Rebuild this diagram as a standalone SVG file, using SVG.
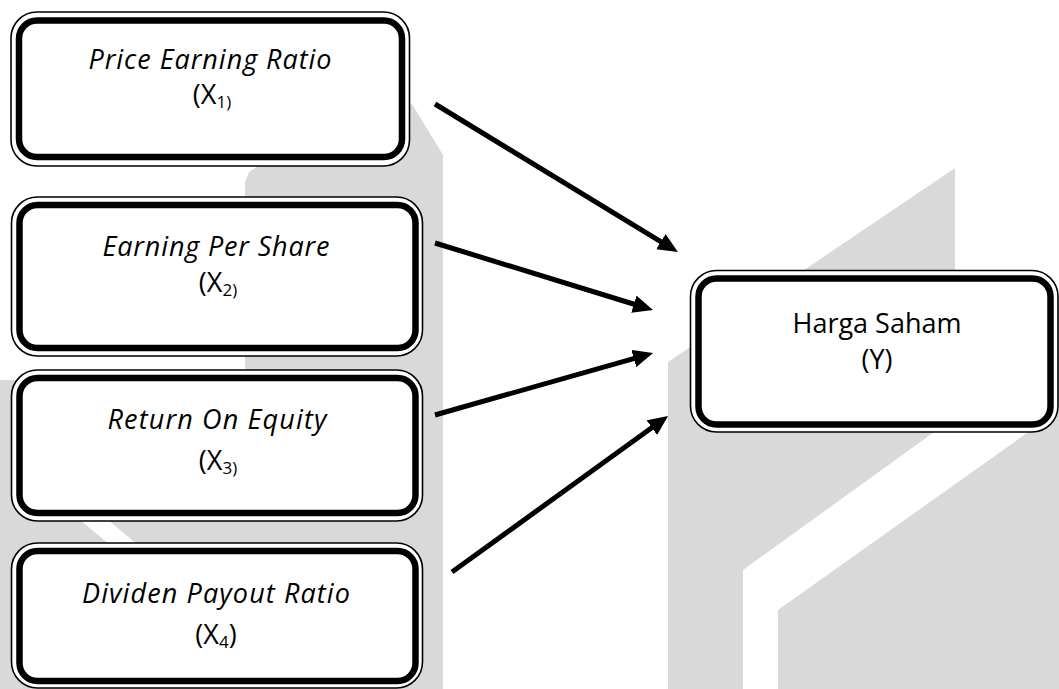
<svg xmlns="http://www.w3.org/2000/svg" width="1059" height="689" viewBox="0 0 1059 689">
<style>
.wm{fill:#d9d9d9;stroke:none}
.outer{fill:#fff;stroke:#000;stroke-width:1.6}
.inner{fill:none;stroke:#000;stroke-width:6.5}
.t{font-family:"Open Sans","Noto Sans","Liberation Sans",sans-serif;font-size:27px;fill:#000;text-anchor:middle}
.it{font-style:italic}
.sub{font-size:17px}
.conn{stroke:#000;stroke-width:5;fill:none;marker-end:url(#ah)}
</style>
<defs>
<marker id="ah" markerUnits="userSpaceOnUse" markerWidth="20" markerHeight="18" viewBox="0 0 20 18" refX="8" refY="9" orient="auto">
<path d="M0,0 L20,9 L0,18 z" fill="#000"/>
</marker>
</defs>
<rect width="1059" height="689" fill="#fff"/>
<g id="watermark">
<polygon class="wm" points="245,689 245,182 249,172 258,166 412,104 443,155 443,689"/>
<rect class="wm" x="0" y="380" width="245" height="309"/>
<polygon points="80,520 108,520 138,545 110,545" fill="#fff"/>
<polygon class="wm" points="668,362 955,168 955,417 743,570 743,689 668,689"/>
<polygon class="wm" points="778,610 1027,433 1059,410 1059,689 778,689"/>
</g>
<g id="connectors">
<line class="conn" x1="435" y1="104" x2="667.7" y2="245.8"/>
<line class="conn" x1="435" y1="243" x2="641.5" y2="306.5"/>
<line class="conn" x1="435" y1="415" x2="641.5" y2="356.3"/>
<line class="conn" x1="452" y1="572" x2="658.3" y2="423"/>
</g>
<g id="node-x1">
<rect class="outer" x="11" y="12" width="398.5" height="154" rx="26"/>
<rect class="inner" x="19" y="20.5" width="383" height="136.5" rx="18"/>
<text class="t it" x="210" y="69" textLength="243">Price Earning Ratio</text>
<text class="t" x="212" y="104">(X<tspan class="sub" dy="4">1)</tspan></text>
</g>
<g id="node-x2">
<rect class="outer" x="11.5" y="197" width="411" height="159" rx="26"/>
<rect class="inner" x="19.5" y="205" width="396" height="143" rx="18"/>
<text class="t it" x="216" y="256" textLength="227">Earning Per Share</text>
<text class="t" x="218" y="292">(X<tspan class="sub" dy="4">2)</tspan></text>
</g>
<g id="node-x3">
<rect class="outer" x="11.5" y="370" width="411" height="151" rx="26"/>
<rect class="inner" x="19.5" y="378" width="396" height="135" rx="18"/>
<text class="t it" x="217" y="429" textLength="219">Return On Equity</text>
<text class="t" x="218" y="470">(X<tspan class="sub" dy="4">3)</tspan></text>
</g>
<g id="node-x4">
<rect class="outer" x="11.5" y="543" width="411" height="145" rx="26"/>
<rect class="inner" x="19.5" y="551" width="396" height="130" rx="18"/>
<text class="t it" x="216" y="603" textLength="268">Dividen Payout Ratio</text>
<text class="t" x="216" y="644">(X<tspan class="sub" dy="4">4</tspan><tspan dy="-4">)</tspan></text>
</g>
<g id="node-y">
<rect class="outer" x="690.5" y="270.5" width="367.5" height="161.5" rx="26"/>
<rect class="inner" x="698.5" y="278.5" width="352" height="146" rx="18"/>
<text class="t" x="877" y="333">Harga Saham</text>
<text class="t" x="877" y="369">(Y)</text>
</g>
</svg>
